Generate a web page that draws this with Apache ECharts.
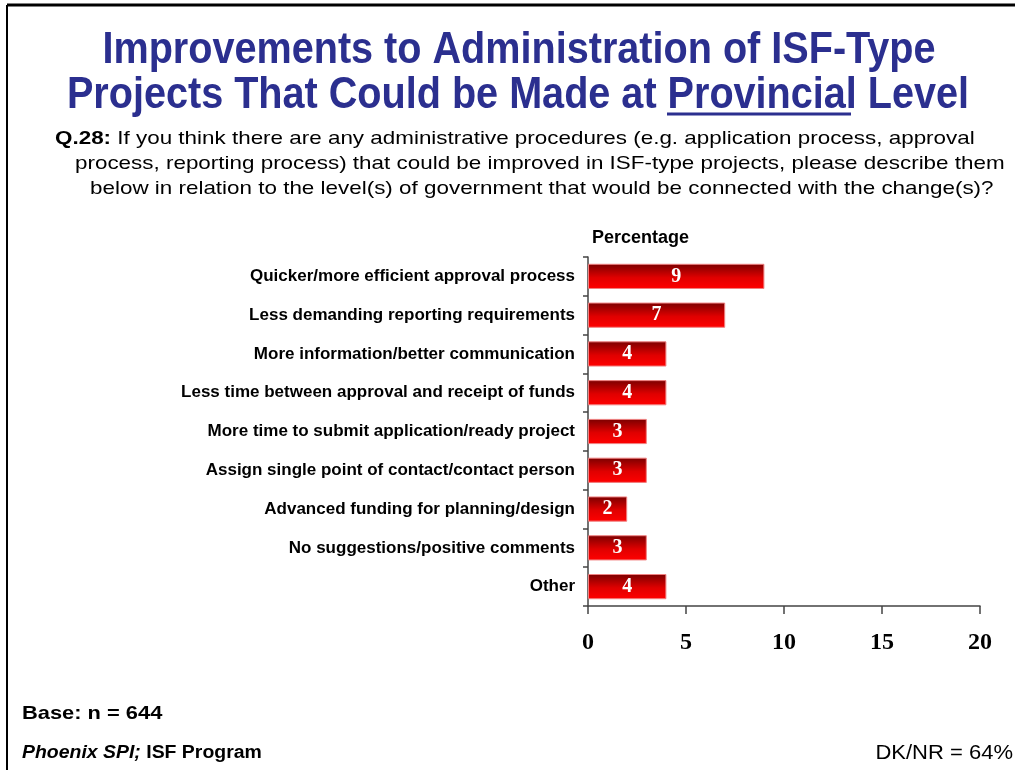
<!DOCTYPE html>
<html lang="en">
<head>
    <meta charset="UTF-8">
    <title>Improvements at Provincial Level</title>
    <style>
        html, body { margin: 0; padding: 0; background: #fff; }
    </style>
</head>
<body>
<div id="main" style="width:1015px;height:770px;"></div>
<script src="https://cdn.jsdelivr.net/npm/echarts@6/dist/echarts.min.js"></script>
<script>
    var categories = [
        'Quicker/more efficient approval process',
        'Less demanding reporting requirements',
        'More information/better communication',
        'Less time between approval and receipt of funds',
        'More time to submit application/ready project',
        'Assign single point of contact/contact person',
        'Advanced funding for planning/design',
        'No suggestions/positive comments',
        'Other'
    ];
    var percentages = [9, 7, 4, 4, 3, 3, 2, 3, 4];
    var xTicks = [0, 5, 10, 15, 20];

    var titleColor = '#2b2f8f';
    var sans = '"Liberation Sans", Arial, sans-serif';
    var serif = '"Liberation Serif", "Times New Roman", serif';

    var myChart = echarts.init(document.getElementById('main'));
    var option = {
        backgroundColor: '#fff',
        animation: false,
        grid: {
            left: 588,
            right: 35,
            top: 257,
            bottom: 164
        },
        xAxis: {
            type: 'value',
            min: xTicks[0],
            max: xTicks[xTicks.length - 1],
            interval: 5,
            axisLine: { show: true, lineStyle: { color: '#444', width: 1.5 } },
            axisTick: { show: true, length: 8, lineStyle: { color: '#444', width: 1.5 } },
            axisLabel: {
                color: '#000',
                fontFamily: serif,
                fontWeight: 'bold',
                fontSize: 24,
                margin: 25
            },
            splitLine: { show: false }
        },
        yAxis: {
            type: 'category',
            data: categories,
            inverse: true,
            axisLine: { show: true, lineStyle: { color: '#444', width: 1.5 } },
            axisTick: { show: true, length: 5, lineStyle: { color: '#444', width: 1.5 } },
            axisLabel: {
                color: '#000',
                fontFamily: sans,
                fontWeight: 'bold',
                fontSize: 17,
                margin: 13
            },
            name: 'Percentage',
            nameLocation: 'start',
            nameGap: 10,
            nameTextStyle: {
                color: '#000',
                fontFamily: sans,
                fontWeight: 'bold',
                fontSize: 18,
                align: 'left',
                padding: [0, 0, 0, 4]
            }
        },
        series: [
            {
                type: 'bar',
                data: percentages,
                barWidth: '65%',
                itemStyle: {
                    color: new echarts.graphic.LinearGradient(0, 0, 0, 1, [
                        { offset: 0, color: '#7a0000' },
                        { offset: 0.55, color: '#e00000' },
                        { offset: 1, color: '#ff0000' }
                    ]),
                    borderColor: '#f08080',
                    borderWidth: 1
                },
                label: {
                    show: true,
                    position: 'inside',
                    color: '#fff',
                    fontFamily: serif,
                    fontWeight: 'bold',
                    fontSize: 20
                }
            }
        ],
        graphic: [
            // slide frame
            { type: 'line', shape: { x1: 7, y1: 5, x2: 1015, y2: 5 }, style: { stroke: '#000', lineWidth: 3 } },
            { type: 'line', shape: { x1: 7, y1: 5, x2: 7, y2: 770 }, style: { stroke: '#000', lineWidth: 2 } },
            // title
            {
                type: 'text', x: 519, y: 51, scaleX: 0.9,
                style: {
                    text: 'Improvements to Administration of ISF-Type',
                    font: 'bold 44px ' + sans,
                    fill: titleColor, align: 'center', verticalAlign: 'middle',
                    shadowColor: 'rgba(0,0,0,0.35)', shadowOffsetX: 2, shadowOffsetY: 2, shadowBlur: 1
                }
            },
            {
                type: 'text', x: 518, y: 96, scaleX: 0.9,
                style: {
                    text: 'Projects That Could be Made at Provincial Level',
                    font: 'bold 44px ' + sans,
                    fill: titleColor, align: 'center', verticalAlign: 'middle',
                    shadowColor: 'rgba(0,0,0,0.35)', shadowOffsetX: 2, shadowOffsetY: 2, shadowBlur: 1
                }
            },
            { type: 'line', shape: { x1: 667, y1: 114, x2: 851, y2: 114 }, style: { stroke: titleColor, lineWidth: 3 } },
            // question
            {
                type: 'text', x: 55, y: 139, scaleX: 1.18,
                style: {
                    rich: {
                        b: { font: 'bold 19px ' + sans, fill: '#000' },
                        n: { font: '19px ' + sans, fill: '#000' }
                    },
                    text: '{b|Q.28:}{n| If you think there are any administrative procedures (e.g. application process, approval}',
                    align: 'left', verticalAlign: 'middle'
                }
            },
            {
                type: 'text', x: 75, y: 164, scaleX: 1.18,
                style: {
                    text: 'process, reporting process) that could be improved in ISF-type projects, please describe them',
                    font: '19px ' + sans, fill: '#000', align: 'left', verticalAlign: 'middle'
                }
            },
            {
                type: 'text', x: 90, y: 189, scaleX: 1.18,
                style: {
                    text: 'below in relation to the level(s) of government that would be connected with the change(s)?',
                    font: '19px ' + sans, fill: '#000', align: 'left', verticalAlign: 'middle'
                }
            },
            // footer
            {
                type: 'text', x: 22, y: 714, scaleX: 1.15,
                style: { text: 'Base: n = 644', font: 'bold 19px ' + sans, fill: '#000', align: 'left', verticalAlign: 'middle' }
            },
            {
                type: 'text', x: 22, y: 753, scaleX: 1.08,
                style: {
                    rich: {
                        i: { font: 'italic bold 18px ' + sans, fill: '#000' },
                        b: { font: 'bold 18px ' + sans, fill: '#000' }
                    },
                    text: '{i|Phoenix SPI;}{b| ISF Program}',
                    align: 'left', verticalAlign: 'middle'
                }
            },
            {
                type: 'text', x: 1013, y: 753, scaleX: 1.1,
                style: { text: 'DK/NR = 64%', font: '20px ' + sans, fill: '#000', align: 'right', verticalAlign: 'middle' }
            }
        ]
    };
    myChart.setOption(option);
</script>
</body>
</html>
